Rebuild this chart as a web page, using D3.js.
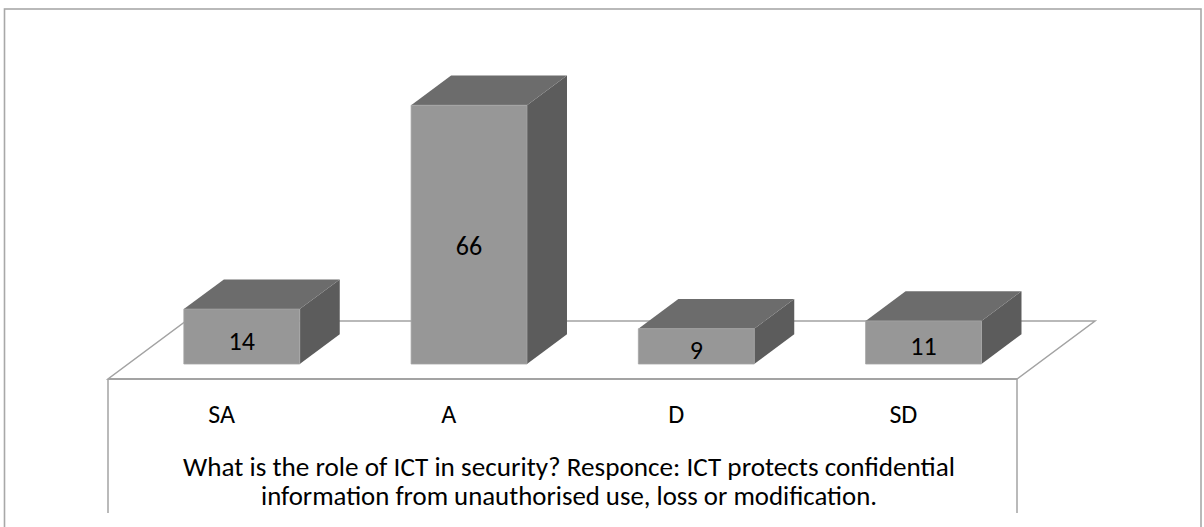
<!DOCTYPE html>
<html>
<head>
<meta charset="utf-8">
<script src="https://cdn.jsdelivr.net/npm/d3@7"></script>
<style>
  html, body { margin: 0; padding: 0; background: #ffffff; }
  svg { display: block; }
  text { font-family: Carlito, Calibri, Lato, "Noto Sans", sans-serif; fill: #000; }
</style>
</head>
<body>
<svg id="chart" width="1204" height="527"></svg>
<script>
// Survey responses (percent of respondents)
const categories = ["SA", "A", "D", "SD"];
const values = [14, 66, 9, 11];
const valueDomain = [0, 70];
const titleLines = [
  "What is the role of ICT in security? Responce: ICT protects confidential",
  "information from unauthorised use, loss or modification."
];

const svg = d3.select("#chart");

// Oblique 3D projection of the floor plane
const floor = { x0: 108, y0: 379, width: 909, dx: 78, dy: 58, boxBottom: 513 };
const barDepth = { front: 15 / 58, span: 40 / 78 };

const x = d3.scaleBand()
  .domain(categories)
  .range([0, floor.width])
  .paddingInner(0.49)
  .paddingOuter(0.245);

const h = d3.scaleLinear().domain(valueDomain).range([0, 274.4]);

// project (u along the axis, w into depth, z height) to screen
const px = (u, w) => floor.x0 + u + floor.dx * w;
const py = (z, w) => floor.y0 - floor.dy * w - z;

// outer chart frame
svg.append("rect")
  .attr("x", 4.5).attr("y", 9)
  .attr("width", 1196.5).attr("height", 540)
  .attr("fill", "none")
  .attr("stroke", "#a8a8a8")
  .attr("stroke-width", 1.6);

// floor
const floorPts = [
  [px(0, 0), py(0, 0)],
  [px(floor.width, 0), py(0, 0)],
  [px(floor.width, 1), py(0, 1)],
  [px(0, 1), py(0, 1)]
];
svg.append("path")
  .attr("d", d3.line()(floorPts) + "Z")
  .attr("fill", "#ffffff")
  .attr("stroke", "#a3a3a3")
  .attr("stroke-width", 1.5);

// box below floor front edge
[0, floor.width].forEach(u => {
  svg.append("line")
    .attr("x1", px(u, 0)).attr("x2", px(u, 0))
    .attr("y1", py(0, 0)).attr("y2", floor.boxBottom)
    .attr("stroke", "#a3a3a3")
    .attr("stroke-width", 1.5);
});
svg.append("line")
  .attr("x1", px(0, 0)).attr("x2", px(floor.width, 0))
  .attr("y1", py(0, 0)).attr("y2", py(0, 0))
  .attr("stroke", "#a3a3a3")
  .attr("stroke-width", 2);

// bars
const w0 = barDepth.front, w1 = barDepth.front + barDepth.span;
const bars = svg.append("g").selectAll("g")
  .data(categories.map((c, i) => ({ c, v: values[i] })))
  .join("g");

bars.each(function(d) {
  const g = d3.select(this);
  const u0 = x(d.c), u1 = x(d.c) + x.bandwidth();
  const z = h(d.v);
  const poly = pts => d3.line()(pts) + "Z";
  // side face
  g.append("path")
    .attr("d", poly([
      [px(u1, w0), py(0, w0)], [px(u1, w1), py(0, w1)],
      [px(u1, w1), py(z, w1)], [px(u1, w0), py(z, w0)]
    ]))
    .attr("fill", "#5c5c5c");
  // top face
  g.append("path")
    .attr("d", poly([
      [px(u0, w0), py(z, w0)], [px(u1, w0), py(z, w0)],
      [px(u1, w1), py(z, w1)], [px(u0, w1), py(z, w1)]
    ]))
    .attr("fill", "#6c6c6c");
  // front face
  g.append("path")
    .attr("d", poly([
      [px(u0, w0), py(0, w0)], [px(u1, w0), py(0, w0)],
      [px(u1, w0), py(z, w0)], [px(u0, w0), py(z, w0)]
    ]))
    .attr("fill", "#979797")
    .attr("stroke", "#a4a4a4")
    .attr("stroke-width", 0.8);
  // value label
  const yMid = py(z / 2, w0) + 0.035 * z + 2;
  g.append("text")
    .attr("x", px((u0 + u1) / 2, w0))
    .attr("y", yMid)
    .attr("dy", "0.35em")
    .attr("text-anchor", "middle")
    .attr("font-size", 26)
    .text(d.v);
});

// category labels
svg.append("g").selectAll("text")
  .data(categories)
  .join("text")
  .attr("x", c => px(x(c) + x.bandwidth() / 2, 0))
  .attr("y", 423)
  .attr("text-anchor", "middle")
  .attr("font-size", 26)
  .text(c => c);

// axis title
const titleWidths = [772, 616];
svg.append("g").selectAll("text")
  .data(titleLines)
  .join("text")
  .attr("x", 569)
  .attr("y", (d, i) => 476 + i * 29)
  .attr("text-anchor", "middle")
  .attr("font-size", 26)
  .attr("textLength", (d, i) => titleWidths[i])
  .attr("lengthAdjust", "spacingAndGlyphs")
  .text(d => d);
</script>
</body>
</html>
